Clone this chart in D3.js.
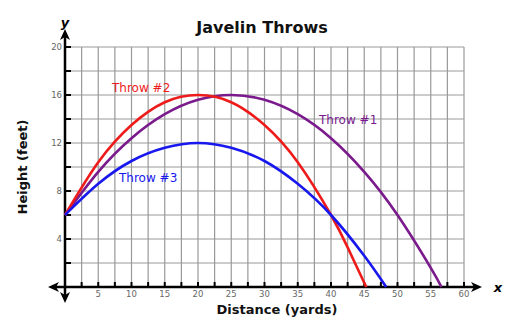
<!DOCTYPE html>
<html><head><meta charset="utf-8">
<script src="https://cdn.jsdelivr.net/npm/d3@7"></script>
<style>body{margin:0;background:#fff}svg{display:block}text{font-family:"DejaVu Sans",Verdana,sans-serif}</style>
</head><body><svg id="c" width="521" height="329"></svg>
<script>
// Data (distance in yards, height in feet)
const throw1 = [[0,6],[5,9.6],[10,12.4],[15,14.4],[20,15.6],[25,16],[30,15.6],[35,14.4],[40,12.4],[45,9.6],[50,6],[55,1.6],[56.6,0]];
const throw2 = [[0,6],[5,10.4],[10,13.5],[15,15.4],[20,16],[25,15.4],[30,13.5],[35,10.4],[40,6],[42.5,3.3],[45.3,0]];
const throw3 = [[0,6],[5,8.6],[10,10.5],[15,11.6],[20,12],[25,11.6],[30,10.5],[35,8.6],[40,6],[45,2.6],[48.3,0]];
const seriesNames = ["Throw #1","Throw #2","Throw #3"];
const xTickLabels = [5,10,15,20,25,30,35,40,45,50,55,60];
const yTickLabels = [4,8,12,16,20];

const svg = d3.select("#c");
const x = d3.scaleLinear().domain([0,60]).range([65,464]);
const y = d3.scaleLinear().domain([0,20]).range([287,47]);

// grid
const g = svg.append("g");
g.selectAll("line.v").data(d3.range(2.5,60.01,2.5)).join("line")
  .attr("x1",d=>x(d)).attr("x2",d=>x(d)).attr("y1",y(0)).attr("y2",y(20))
  .attr("stroke","#999").attr("stroke-width",1.2);
g.selectAll("line.h").data(d3.range(2,20.01,2)).join("line")
  .attr("x1",x(0)).attr("x2",x(60)).attr("y1",d=>y(d)).attr("y2",d=>y(d))
  .attr("stroke","#999").attr("stroke-width",1.2);

// axes
const ax = svg.append("g").attr("stroke","#000").attr("fill","#000");
ax.append("line").attr("x1",55).attr("x2",474).attr("y1",y(0)).attr("y2",y(0)).attr("stroke-width",2.5);
ax.append("line").attr("x1",x(0)).attr("x2",x(0)).attr("y1",37).attr("y2",295).attr("stroke-width",2.5);
// arrowheads
ax.append("path").attr("stroke","none").attr("d",`M482,${y(0)} l-11,-5 l3,5 l-3,5 z`);
ax.append("path").attr("stroke","none").attr("d",`M48,${y(0)} l11,-5 l-3,5 l3,5 z`);
ax.append("path").attr("stroke","none").attr("d",`M${x(0)},29 l-5,11 l5,-3 l5,3 z`);
ax.append("path").attr("stroke","none").attr("d",`M${x(0)},303 l-5,-11 l5,3 l5,-3 z`);
// ticks
ax.selectAll("line.xt").data(d3.range(2.5,60.01,2.5)).join("line")
  .attr("x1",d=>x(d)).attr("x2",d=>x(d)).attr("y1",y(0)-5).attr("y2",y(0)+1).attr("stroke-width",2);
ax.selectAll("line.yt").data(d3.range(2,20.01,2)).join("line")
  .attr("x1",x(0)-1).attr("x2",x(0)+6).attr("y1",d=>y(d)).attr("y2",d=>y(d)).attr("stroke-width",2);

// tick labels
svg.append("g").selectAll("text").data(xTickLabels).join("text")
  .attr("x",d=>x(d)).attr("y",y(0)+10).attr("text-anchor","middle")
  .attr("font-size",8.5).attr("fill","#666").text(d=>d);
svg.append("g").selectAll("text").data(yTickLabels).join("text")
  .attr("x",x(0)-3).attr("y",d=>y(d)+3).attr("text-anchor","end")
  .attr("font-size",8.5).attr("fill","#666").text(d=>d);

// curves
const line = d3.line().x(d=>x(d[0])).y(d=>y(d[1])).curve(d3.curveNatural);
const colors = ["#7a1a8c","#ee1b1b","#1818ee"];
[throw1,throw2,throw3].forEach((s,i)=>{
  svg.append("path").attr("d",line(s)).attr("fill","none").attr("stroke",colors[i]).attr("stroke-width",2.6);
});

// series labels
const lab = [[319,124],[112,92],[119,182]];
seriesNames.forEach((n,i)=>{
  svg.append("text").attr("x",lab[i][0]).attr("y",lab[i][1]).attr("font-size",12)
    .attr("fill",colors[i]).text(n);
});

// titles
svg.append("text").attr("x",262).attr("y",33).attr("text-anchor","middle")
  .attr("font-size",16).attr("font-weight","bold").attr("fill","#111").text("Javelin Throws");
svg.append("text").attr("x",277).attr("y",314).attr("text-anchor","middle")
  .attr("font-size",13).attr("font-weight","bold").attr("fill","#111").text("Distance (yards)");
svg.append("text").attr("transform","translate(27,167) rotate(-90)").attr("text-anchor","middle")
  .attr("font-size",13).attr("font-weight","bold").attr("fill","#111").text("Height (feet)");
svg.append("text").attr("x",x(0)).attr("y",27).attr("text-anchor","middle")
  .attr("font-size",13).attr("font-weight","bold").attr("font-style","italic").text("y");
svg.append("text").attr("x",498).attr("y",y(0)+5).attr("text-anchor","middle")
  .attr("font-size",13).attr("font-weight","bold").attr("font-style","italic").text("x");
</script></body></html>
